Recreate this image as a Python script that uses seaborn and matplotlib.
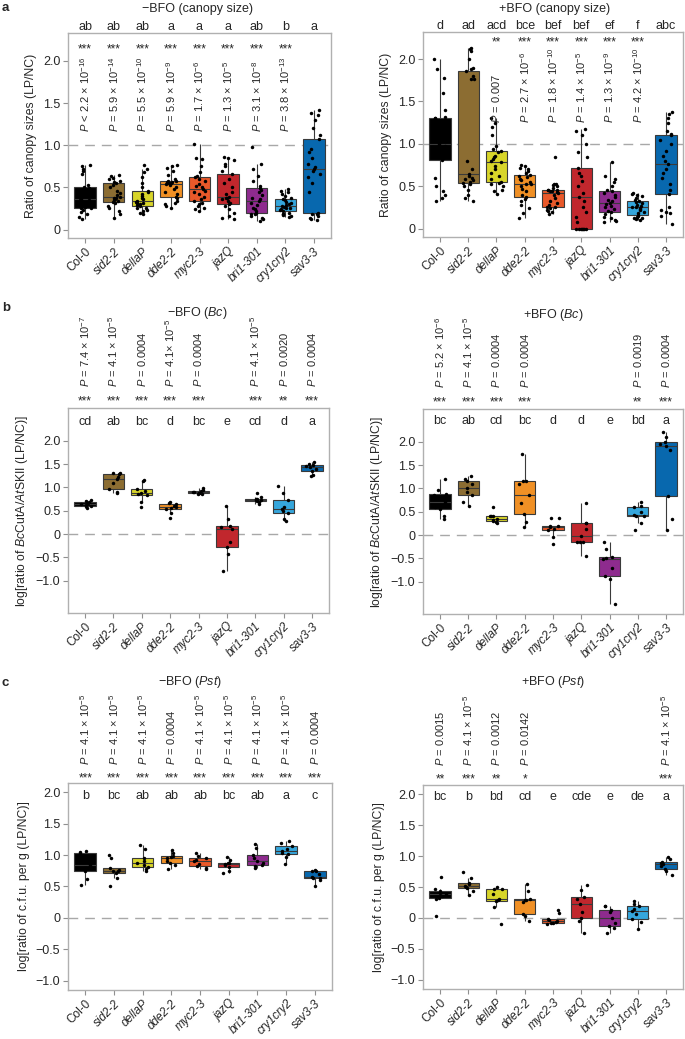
import numpy as np
import pandas as pd
import seaborn as sns
import matplotlib.pyplot as plt

# genotypes and colours
genotipos = ['Col-0', 'sid2-2', 'dellaP', 'dde2-2', 'myc2-3', 'jazQ', 'bri1-301', 'cry1cry2', 'sav3-3']
colores = ['#000000', '#8C6D32', '#D8D52A', '#F09025', '#E9592A', '#C1272D', '#8E2B8E', '#35A6DC', '#0868AE']

# a) canopy size, -BFO
canopy_menos = [
    [0.12, 0.15, 0.18, 0.21, 0.23, 0.25, 0.26, 0.27, 0.29, 0.31, 0.33, 0.35, 0.36, 0.38, 0.41, 0.44, 0.47, 0.49, 0.50, 0.53, 0.66, 0.70, 0.72, 0.75, 0.77],
    [0.14, 0.19, 0.22, 0.25, 0.28, 0.31, 0.33, 0.34, 0.35, 0.36, 0.37, 0.38, 0.39, 0.41, 0.43, 0.46, 0.50, 0.53, 0.55, 0.56, 0.58, 0.60, 0.61, 0.63, 0.65],
    [0.19, 0.20, 0.22, 0.23, 0.25, 0.26, 0.28, 0.29, 0.30, 0.31, 0.32, 0.33, 0.34, 0.36, 0.38, 0.40, 0.42, 0.44, 0.46, 0.50, 0.55, 0.62, 0.68, 0.72, 0.77],
    [0.26, 0.28, 0.30, 0.32, 0.34, 0.37, 0.39, 0.42, 0.45, 0.48, 0.51, 0.53, 0.54, 0.55, 0.55, 0.56, 0.56, 0.57, 0.57, 0.60, 0.65, 0.70, 0.73, 0.75, 0.76],
    [0.22, 0.24, 0.26, 0.28, 0.30, 0.32, 0.34, 0.36, 0.39, 0.42, 0.44, 0.46, 0.48, 0.50, 0.52, 0.54, 0.57, 0.60, 0.62, 0.64, 0.68, 0.75, 0.84, 0.85, 1.02],
    [0.12, 0.14, 0.16, 0.20, 0.24, 0.28, 0.30, 0.32, 0.34, 0.36, 0.37, 0.38, 0.39, 0.42, 0.45, 0.50, 0.55, 0.60, 0.66, 0.70, 0.75, 0.78, 0.82, 0.85, 0.86],
    [0.10, 0.12, 0.14, 0.16, 0.18, 0.19, 0.20, 0.22, 0.24, 0.26, 0.29, 0.32, 0.34, 0.36, 0.38, 0.41, 0.44, 0.47, 0.49, 0.52, 0.58, 0.64, 0.72, 0.78, 0.98],
    [0.15, 0.16, 0.17, 0.18, 0.19, 0.20, 0.22, 0.23, 0.24, 0.25, 0.26, 0.27, 0.28, 0.29, 0.30, 0.31, 0.33, 0.35, 0.36, 0.38, 0.40, 0.42, 0.44, 0.46, 0.48],
    [0.11, 0.12, 0.14, 0.16, 0.18, 0.19, 0.20, 0.45, 0.55, 0.62, 0.66, 0.70, 0.72, 0.74, 0.78, 0.85, 0.92, 0.96, 1.07, 1.12, 1.20, 1.30, 1.36, 1.38, 1.42],
]
# a) canopy size, +BFO
canopy_mas = [
    [0.33, 0.36, 0.40, 0.44, 0.50, 0.60, 0.81, 0.83, 0.86, 0.90, 0.95, 0.98, 1.00, 1.05, 1.10, 1.20, 1.28, 1.30, 1.30, 1.32, 1.40, 1.60, 1.78, 1.88, 2.00],
    [0.33, 0.36, 0.40, 0.45, 0.50, 0.52, 0.54, 0.55, 0.57, 0.58, 0.60, 0.62, 0.64, 0.70, 0.80, 1.76, 1.77, 1.80, 1.86, 1.88, 1.90, 2.00, 2.10, 2.12, 2.13],
    [0.41, 0.44, 0.46, 0.50, 0.52, 0.54, 0.55, 0.58, 0.62, 0.66, 0.70, 0.74, 0.78, 0.80, 0.82, 0.84, 0.86, 0.90, 0.92, 0.94, 0.98, 1.10, 1.20, 1.25, 1.30],
    [0.12, 0.18, 0.24, 0.28, 0.32, 0.35, 0.37, 0.40, 0.44, 0.47, 0.50, 0.52, 0.53, 0.55, 0.57, 0.59, 0.61, 0.62, 0.63, 0.65, 0.68, 0.70, 0.72, 0.74, 0.75],
    [0.17, 0.19, 0.21, 0.22, 0.24, 0.25, 0.26, 0.28, 0.30, 0.33, 0.36, 0.39, 0.42, 0.43, 0.44, 0.44, 0.45, 0.45, 0.46, 0.48, 0.50, 0.51, 0.52, 0.53, 0.85],
    [0.0, 0.0, 0.0, 0.0, 0.0, 0.0, 0.0, 0.08, 0.14, 0.20, 0.26, 0.32, 0.37, 0.42, 0.50, 0.56, 0.62, 0.66, 0.72, 0.85, 0.90, 1.00, 1.10, 1.15, 1.18],
    [0.08, 0.09, 0.10, 0.12, 0.14, 0.17, 0.19, 0.21, 0.23, 0.25, 0.27, 0.29, 0.30, 0.32, 0.34, 0.37, 0.40, 0.42, 0.44, 0.46, 0.50, 0.55, 0.58, 0.62, 0.79],
    [0.10, 0.11, 0.12, 0.13, 0.14, 0.15, 0.16, 0.18, 0.20, 0.22, 0.23, 0.24, 0.25, 0.26, 0.27, 0.28, 0.30, 0.31, 0.32, 0.34, 0.36, 0.38, 0.40, 0.41, 0.42],
    [0.05, 0.15, 0.18, 0.20, 0.22, 0.25, 0.41, 0.45, 0.52, 0.60, 0.65, 0.70, 0.76, 0.80, 0.86, 0.92, 1.00, 1.05, 1.10, 1.12, 1.15, 1.25, 1.30, 1.35, 1.38],
]
# b) Bc, -BFO / +BFO
bc_menos = [
    [0.55, 0.60, 0.61, 0.63, 0.65, 0.67, 0.69, 0.71, 0.73],
    [0.87, 0.90, 0.96, 1.10, 1.19, 1.22, 1.28, 1.30, 1.31],
    [0.58, 0.68, 0.84, 0.86, 0.88, 0.92, 0.96, 1.14, 1.16],
    [0.34, 0.45, 0.54, 0.56, 0.57, 0.60, 0.64, 0.66, 0.69],
    [0.85, 0.86, 0.89, 0.89, 0.90, 0.91, 0.93, 0.95, 0.98],
    [-0.80, -0.42, -0.27, -0.18, 0.10, 0.15, 0.17, 0.33, 0.60],
    [0.65, 0.68, 0.71, 0.72, 0.74, 0.75, 0.76, 0.80, 0.88],
    [0.28, 0.33, 0.46, 0.50, 0.54, 0.58, 0.74, 0.88, 1.04],
    [1.24, 1.26, 1.35, 1.40, 1.43, 1.46, 1.47, 1.50, 1.55],
]
bc_mas = [
    [0.34, 0.41, 0.56, 0.60, 0.70, 0.85, 0.89, 0.97, 1.21],
    [0.62, 0.70, 0.86, 0.92, 1.00, 1.10, 1.16, 1.20, 1.27],
    [0.25, 0.27, 0.30, 0.33, 0.35, 0.40, 0.40, 0.41, 0.61],
    [0.17, 0.28, 0.46, 0.68, 0.86, 1.10, 1.15, 1.16, 1.74],
    [-0.20, -0.05, 0.10, 0.13, 0.17, 0.19, 0.20, 0.37, 0.37],
    [-0.44, -0.15, -0.15, -0.15, -0.03, 0.13, 0.26, 0.26, 0.69],
    [-1.47, -0.93, -0.88, -0.70, -0.51, -0.49, -0.47, -0.30, -0.15],
    [0.10, 0.26, 0.41, 0.41, 0.42, 0.50, 0.60, 0.62, 0.70],
    [0.10, 0.35, 0.83, 1.83, 1.91, 1.95, 1.99, 2.10, 2.21],
]
# c) Pst, -BFO / +BFO
pst_menos = [
    [0.53, 0.62, 0.74, 0.80, 0.85, 0.95, 1.03, 1.05, 1.06],
    [0.50, 0.64, 0.72, 0.74, 0.75, 0.76, 0.79, 0.95, 1.01],
    [0.75, 0.78, 0.81, 0.84, 0.87, 0.90, 0.96, 1.10, 1.16],
    [0.78, 0.84, 0.87, 0.91, 0.95, 0.97, 0.98, 1.03, 1.08],
    [0.78, 0.80, 0.82, 0.86, 0.90, 0.92, 0.95, 0.99, 1.03],
    [0.71, 0.75, 0.81, 0.84, 0.86, 0.87, 0.88, 0.92, 0.97],
    [0.80, 0.82, 0.84, 0.88, 0.91, 0.95, 1.00, 1.12, 1.18],
    [0.86, 0.97, 1.02, 1.04, 1.07, 1.10, 1.14, 1.19, 1.22],
    [0.50, 0.60, 0.63, 0.64, 0.65, 0.70, 0.74, 0.75, 0.76],
]
pst_mas = [
    [0.03, 0.31, 0.33, 0.36, 0.38, 0.41, 0.43, 0.46, 0.66],
    [0.37, 0.44, 0.48, 0.50, 0.52, 0.55, 0.57, 0.65, 0.74],
    [-0.10, 0.18, 0.28, 0.29, 0.31, 0.38, 0.46, 0.47, 0.50],
    [-0.05, 0.03, 0.06, 0.25, 0.29, 0.29, 0.30, 0.44, 0.55],
    [-0.10, -0.09, -0.08, -0.06, -0.05, -0.04, -0.02, 0.08, 0.12],
    [-0.25, -0.05, 0.00, 0.10, 0.22, 0.30, 0.34, 0.45, 0.53],
    [-0.24, -0.16, -0.13, -0.09, 0.00, 0.10, 0.13, 0.19, 0.20],
    [-0.18, -0.06, -0.02, 0.07, 0.11, 0.15, 0.20, 0.22, 0.28],
    [0.69, 0.76, 0.79, 0.84, 0.87, 0.89, 0.90, 0.95, 0.98],
]

# letras y significancia
letras_a1 = ['ab', 'ab', 'ab', 'a', 'a', 'a', 'ab', 'b', 'a']
letras_a2 = ['d', 'ad', 'acd', 'bce', 'bef', 'bef', 'ef', 'f', 'abc']
letras_b1 = ['cd', 'ab', 'bc', 'd', 'bc', 'e', 'cd', 'd', 'a']
letras_b2 = ['bc', 'ab', 'cd', 'bc', 'd', 'd', 'e', 'bd', 'a']
letras_c1 = ['b', 'bc', 'ab', 'ab', 'ab', 'bc', 'ab', 'a', 'c']
letras_c2 = ['bc', 'b', 'bd', 'cd', 'e', 'cde', 'e', 'de', 'a']

estrellas_a1 = ['***'] * 8 + ['']
estrellas_a2 = ['', '', '**', '***', '***', '***', '***', '***', '']
estrellas_b1 = ['***', '***', '***', '***', '***', '', '***', '**', '***']
estrellas_b2 = ['***', '***', '***', '***', '', '', '', '**', '***']
estrellas_c1 = ['***'] * 9
estrellas_c2 = ['**', '***', '**', '*', '', '', '', '', '***']

p_a1 = ['< 2.2 × 10$^{-16}$', '= 5.9 × 10$^{-14}$', '= 5.5 × 10$^{-10}$', '= 5.9 × 10$^{-9}$',
        '= 1.7 × 10$^{-6}$', '= 1.3 × 10$^{-5}$', '= 3.1 × 10$^{-8}$', '= 3.8 × 10$^{-13}$', '']
p_a2 = ['', '', '= 0.007', '= 2.7 × 10$^{-6}$', '= 1.8 × 10$^{-10}$', '= 1.4 × 10$^{-5}$',
        '= 1.3 × 10$^{-9}$', '= 4.2 × 10$^{-10}$', '']
p_b1 = ['= 7.4 × 10$^{-7}$', '= 4.1 × 10$^{-5}$', '= 0.0004', '= 4.1× 10$^{-5}$', '= 0.0004',
        '', '= 4.1 × 10$^{-5}$', '= 0.0020', '= 0.0004']
p_b2 = ['= 5.2 × 10$^{-6}$', '= 4.1 × 10$^{-5}$', '= 0.0004', '= 0.0004', '', '', '', '= 0.0019', '= 0.0004']
p_c1 = ['= 4.1 × 10$^{-5}$', '= 4.1 × 10$^{-5}$', '= 4.1 × 10$^{-5}$', '= 0.0004', '= 4.1 × 10$^{-5}$',
        '= 4.1 × 10$^{-5}$', '= 4.1 × 10$^{-5}$', '= 4.1 × 10$^{-5}$', '= 0.0004']
p_c2 = ['= 0.0015', '= 4.1 × 10$^{-5}$', '= 0.0012', '= 0.0142', '', '', '', '', '= 4.1 × 10$^{-5}$']

sns.set_theme(style='ticks')
plt.rcParams['font.family'] = ['Liberation Sans', 'DejaVu Sans']
plt.rcParams['mathtext.fontset'] = 'custom'
plt.rcParams['mathtext.rm'] = 'Liberation Sans'
plt.rcParams['mathtext.it'] = 'Liberation Sans:italic'
plt.rcParams['axes.unicode_minus'] = True

W, H = 685, 1039
fig = plt.figure(figsize=(W / 100, H / 100), dpi=100)


def caja(px):
    # px = (x0, y0, x1, y1) en pixeles desde arriba
    x0, y0, x1, y1 = px
    return [x0 / W, 1 - y1 / H, (x1 - x0) / W, (y1 - y0) / H]


def panel(px, valores, ylim, yticks, ylabel, ref, letras, estrellas, pvals, y_let, y_est, y_p):
    ax = fig.add_axes(caja(px))
    df = pd.DataFrame([(g, v) for g, vals in zip(genotipos, valores) for v in vals],
                      columns=['Genotipo', 'Valor'])
    ax.axhline(ref, color='#a8a8a8', lw=1, ls=(0, (7, 5)), zorder=0)
    sns.boxplot(data=df, x='Genotipo', y='Valor', hue='Genotipo', order=genotipos,
                hue_order=genotipos, palette=colores, legend=False, saturation=1,
                width=0.75, showfliers=False, showcaps=False, linecolor='#3a3a3a',
                linewidth=0.8, ax=ax)
    sns.stripplot(data=df, x='Genotipo', y='Valor', order=genotipos, color='black',
                  size=2.5, jitter=0.22, ax=ax)
    ax.set_ylim(*ylim)
    ax.set_xlim(-0.6, 8.6)
    ax.set_yticks(yticks)
    ax.set_yticklabels(['0' if t == 0 else f'{t:.1f}'.replace('-', '−') for t in yticks], fontsize=9)
    ax.set_xticks(range(9))
    ax.set_xticklabels(genotipos, rotation=45, ha='right', rotation_mode='anchor', fontsize=8.5)
    for lab in ax.get_xticklabels()[1:]:
        lab.set_fontstyle('italic')
    ax.set_xlabel('')
    ax.set_ylabel(ylabel, fontsize=8.8)
    for s in ax.spines.values():
        s.set_visible(True)
        s.set_color('#b0b0b0')
        s.set_linewidth(1)
    ax.tick_params(axis='both', length=3.5, color='#909090', width=0.8, pad=2)
    tr = ax.get_xaxis_transform()
    for i in range(9):
        ax.text(i, y_let, letras[i], transform=tr, ha='center', va='center', fontsize=9, clip_on=False)
        if estrellas[i]:
            ax.text(i, y_est, estrellas[i], transform=tr, ha='center', va='center', fontsize=8.5, clip_on=False)
        if pvals[i]:
            ax.text(i, y_p, '$P$ ' + pvals[i], transform=tr, ha='center', va='bottom', rotation=90,
                    fontsize=8, clip_on=False)
    return ax


ticks_a = [0, 0.5, 1.0, 1.5, 2.0]
ticks_bc = [-1.0, -0.5, 0, 0.5, 1.0, 1.5, 2.0]
lab_a = 'Ratio of canopy sizes (LP/NC)'
lab_b = r'log[ratio of $\mathit{Bc}$CutA/$\mathit{At}$SKII (LP/NC)]'
lab_c = 'log[ratio of c.f.u. per g (LP/NC)]'

panel((68, 33, 331, 238), canopy_menos, (-0.1, 2.33), ticks_a, lab_a, 1.0,
      letras_a1, estrellas_a1, p_a1, 1.03, 0.92, 0.515)
panel((423, 32, 683, 237), canopy_mas, (-0.1, 2.32), ticks_a, lab_a, 1.0,
      letras_a2, estrellas_a2, p_a2, 1.03, 0.95, 0.555)
panel((68, 408, 329, 613), bc_menos, (-1.69, 2.70), ticks_bc, lab_b, 0,
      letras_b1, estrellas_b1, p_b1, 0.93, 1.03, 1.10)
panel((423, 409, 683, 614), bc_mas, (-1.69, 2.70), ticks_bc, lab_b, 0,
      letras_b2, estrellas_b2, p_b2, 0.94, 1.03, 1.10)
panel((68, 783, 332, 990), pst_menos, (-1.15, 2.15), ticks_bc, lab_c, 0,
      letras_c1, estrellas_c1, p_c1, 0.935, 1.02, 1.085)
panel((423, 785, 683, 989), pst_mas, (-1.15, 2.15), ticks_bc, lab_c, 0,
      letras_c2, estrellas_c2, p_c2, 0.94, 1.025, 1.095)

# titulos de los paneles
titulos = [(197, 9, '−BFO (canopy size)'), (555, 9, '+BFO (canopy size)'),
           (197, 313, r'−BFO ($\mathit{Bc}$)'), (553, 315, r'+BFO ($\mathit{Bc}$)'),
           (190, 682, r'−BFO ($\mathit{Pst}$)'), (553, 682, r'+BFO ($\mathit{Pst}$)')]
for x, y, t in titulos:
    fig.text(x / W, 1 - y / H, t, ha='center', va='center', fontsize=9)
for x, y, t in [(2, 8, 'a'), (2, 308, 'b'), (2, 683, 'c')]:
    fig.text(x / W, 1 - y / H, t, ha='left', va='center', fontsize=9.5, fontweight='bold')

fig.savefig('out.png', dpi=100)
